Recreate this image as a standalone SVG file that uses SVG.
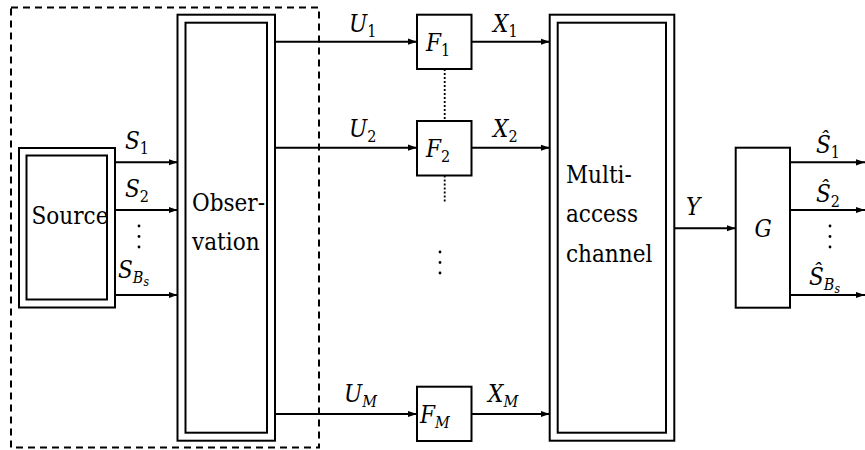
<svg xmlns="http://www.w3.org/2000/svg" width="865" height="450" viewBox="0 0 865 450">
<defs>
<marker id="ah" markerWidth="10" markerHeight="8" refX="9" refY="4" orient="auto" markerUnits="userSpaceOnUse">
<path d="M0,0.9 L9,4 L0,7.1 Z" fill="#000"/>
</marker>
</defs>
<style>
.box{fill:none;stroke:#000;stroke-width:2}
.arr{fill:none;stroke:#000;stroke-width:2;marker-end:url(#ah)}
.t{font-family:'DejaVu Serif Condensed','DejaVu Serif',serif;font-size:24px;fill:#000}
.m{font-family:'DejaVu Serif Condensed','DejaVu Serif',serif;font-size:24px;font-style:italic;fill:#000}
.sub{font-size:16px;font-style:normal}
.subi{font-size:16px;font-style:italic}
.ss{font-size:12px;font-style:italic}
.dot{fill:#000}
</style>
<rect x="11" y="7.5" width="308" height="440" fill="none" stroke="#000" stroke-width="2" stroke-dasharray="7 5"/>
<g id="source">
<rect class="box" x="19" y="148" width="96" height="159.5"/>
<rect class="box" x="26.5" y="155.5" width="80.5" height="144"/>
<text class="t" x="70" y="224" text-anchor="middle">Source</text>
</g>
<g id="observation">
<rect class="box" x="177.5" y="14.7" width="97.5" height="426"/>
<rect class="box" x="185.5" y="22.7" width="81.5" height="410"/>
<text class="t" x="192" y="211">Obser-</text>
<text class="t" x="192" y="250">vation</text>
</g>
<g id="F1">
<rect class="box" x="417" y="14.7" width="54.5" height="54.3"/>
<text class="m" x="426" y="51">F<tspan class="sub" dy="5">1</tspan></text>
</g>
<g id="F2">
<rect class="box" x="417" y="121" width="54.5" height="54.5"/>
<text class="m" x="426" y="157">F<tspan class="sub" dy="5">2</tspan></text>
</g>
<g id="FM">
<rect class="box" x="417" y="386.7" width="54.5" height="54.3"/>
<text class="m" x="420" y="423">F<tspan class="subi" dy="5">M</tspan></text>
</g>
<g id="mac">
<rect class="box" x="549.7" y="14.7" width="124.6" height="426"/>
<rect class="box" x="557.7" y="22.7" width="108.3" height="410"/>
<text class="t" x="566" y="183">Multi-</text>
<text class="t" x="566" y="222">access</text>
<text class="t" x="566" y="262">channel</text>
</g>
<g id="G">
<rect class="box" x="735.7" y="147.7" width="54.3" height="160"/>
<text class="m" x="763" y="237" text-anchor="middle">G</text>
</g>
<g id="connectors">
<line class="arr" x1="115" y1="162.3" x2="177.5" y2="162.3"/>
<line class="arr" x1="115" y1="210" x2="177.5" y2="210"/>
<line class="arr" x1="115" y1="295" x2="177.5" y2="295"/>
<line class="arr" x1="275" y1="41.7" x2="417" y2="41.7"/>
<line class="arr" x1="275" y1="147.7" x2="417" y2="147.7"/>
<line class="arr" x1="275" y1="414" x2="417" y2="414"/>
<line class="arr" x1="471.5" y1="41.7" x2="549.7" y2="41.7"/>
<line class="arr" x1="471.5" y1="147.7" x2="549.7" y2="147.7"/>
<line class="arr" x1="471.5" y1="414" x2="549.7" y2="414"/>
<line class="arr" x1="674.3" y1="228.3" x2="735.7" y2="228.3"/>
<line class="arr" x1="790" y1="162.3" x2="865" y2="162.3"/>
<line class="arr" x1="790" y1="210" x2="865" y2="210"/>
<line class="arr" x1="790" y1="295" x2="865" y2="295"/>
<line x1="444.7" y1="69" x2="444.7" y2="121" stroke="#000" stroke-width="1.8" stroke-dasharray="2 2"/>
<line x1="444.7" y1="175.5" x2="444.7" y2="202" stroke="#000" stroke-width="1.8" stroke-dasharray="2 2"/>
</g>
<g id="labels">
<text class="m" x="125" y="149">S<tspan class="sub" dy="5">1</tspan></text>
<text class="m" x="125" y="196.5">S<tspan class="sub" dy="5">2</tspan></text>
<circle class="dot" cx="139" cy="226" r="1.4"/>
<circle class="dot" cx="139" cy="236.5" r="1.4"/>
<circle class="dot" cx="139" cy="247" r="1.4"/>
<text class="m" x="118" y="278">S<tspan class="subi" dy="5">B</tspan><tspan class="ss" dy="3">s</tspan></text>
<text class="m" x="349" y="31.5">U<tspan class="sub" dy="5">1</tspan></text>
<text class="m" x="349" y="136.5">U<tspan class="sub" dy="5">2</tspan></text>
<text class="m" x="344" y="402">U<tspan class="subi" dy="5">M</tspan></text>
<text class="m" x="493" y="31.5">X<tspan class="sub" dy="5">1</tspan></text>
<text class="m" x="493" y="136.5">X<tspan class="sub" dy="5">2</tspan></text>
<text class="m" x="488" y="402">X<tspan class="subi" dy="5">M</tspan></text>
<circle class="dot" cx="440" cy="252" r="1.4"/>
<circle class="dot" cx="440" cy="262.5" r="1.4"/>
<circle class="dot" cx="440" cy="273" r="1.4"/>
<text class="m" x="686" y="215">Y</text>
<text class="m" x="816" y="153">Ŝ<tspan class="sub" dy="5">1</tspan></text>
<text class="m" x="816" y="201.5">Ŝ<tspan class="sub" dy="5">2</tspan></text>
<circle class="dot" cx="830" cy="226" r="1.4"/>
<circle class="dot" cx="830" cy="236.5" r="1.4"/>
<circle class="dot" cx="830" cy="247" r="1.4"/>
<text class="m" x="809" y="285">Ŝ<tspan class="subi" dy="5">B</tspan><tspan class="ss" dy="3">s</tspan></text>
</g>
</svg>
